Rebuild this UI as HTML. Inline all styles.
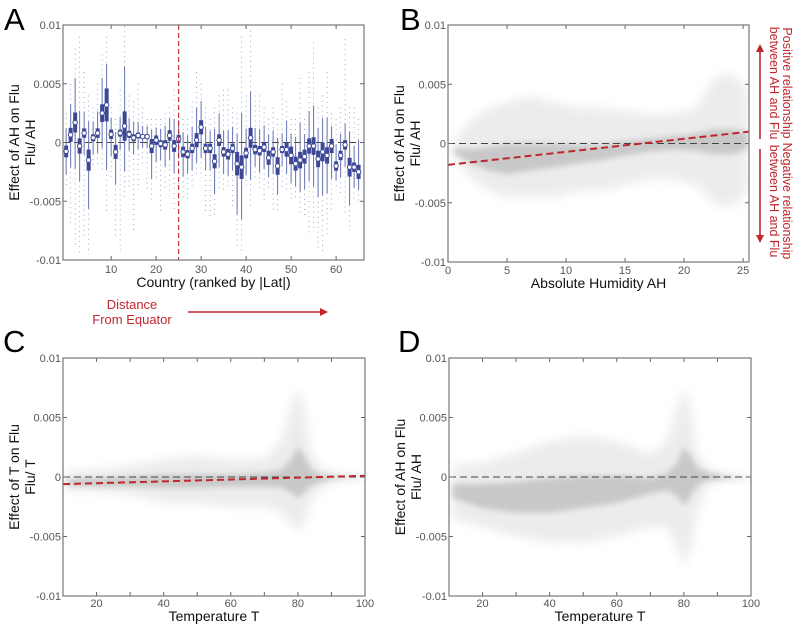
<!DOCTYPE html>
<html><head><meta charset="utf-8">
<style>
body{margin:0;background:#fff;}
svg{display:block;font-family:"Liberation Sans",Arial,sans-serif;}
.tl{font-size:11px;fill:#555;}
.at{font-size:14px;fill:#111;}
.pl{font-size:31px;fill:#000;}
.red{fill:#c0272d;font-size:13px;}
.redr{fill:#c0272d;font-size:12.5px;}
</style></head><body>
<svg id="fig" width="802" height="625" viewBox="0 0 802 625">
<defs>
<filter id="blurO" x="-20%" y="-20%" width="140%" height="140%"><feGaussianBlur stdDeviation="5"/></filter>
<filter id="blurI" x="-20%" y="-20%" width="140%" height="140%"><feGaussianBlur stdDeviation="3"/></filter>
<marker id="ah" markerWidth="8" markerHeight="8" refX="6" refY="4" orient="auto" markerUnits="userSpaceOnUse"><path d="M0,0 L8,4 L0,8 z" fill="#c0272d"/></marker>
</defs>
<g id="gA"></g>
<g id="gB"></g>
<g id="gC"></g>
<g id="gD"></g>
<text class="pl" x="4" y="30">A</text>
<text class="pl" x="400" y="30">B</text>
<text class="pl" x="3" y="352">C</text>
<text class="pl" x="398" y="352">D</text>
<g>
<text class="red" x="132" y="309" text-anchor="middle">Distance</text>
<text class="red" x="132" y="324" text-anchor="middle">From Equator</text>
<line x1="188" y1="312" x2="326" y2="312" stroke="#c0272d" stroke-width="1.6" marker-end="url(#ah)"/>
</g>
<g>
<line x1="760" y1="139" x2="760" y2="46" stroke="#c0272d" stroke-width="1.6" marker-end="url(#ah)"/>
<line x1="760" y1="149" x2="760" y2="241" stroke="#c0272d" stroke-width="1.6" marker-end="url(#ah)"/>
<g transform="translate(783,143) rotate(90)">
<text class="redr" x="-60" y="0" text-anchor="middle">Positive relationship</text>
<text class="redr" x="-60" y="13" text-anchor="middle">between AH and Flu</text>
<text class="redr" x="58" y="0" text-anchor="middle">Negative relationship</text>
<text class="redr" x="58" y="13" text-anchor="middle">between AH and Flu</text>
</g>
</g>
</svg>
<script>
// ---- Panel A data ----
const aMedian=[-0.00076,0.00065,0.0017,-0.0003,0.0008,-0.0015,0.0004,0.0008,0.0025,0.0032,0.0007,-0.0008,0.0008,0.0014,0.0007,0.0004,0.0006,0.0005,0.0005,-0.0003,0.0002,-0.0001,-0.0002,0.0006,-0.0003,0.0003,-0.0008,-0.001,-0.0005,0.0002,0.0013,-0.0005,-0.0005,-0.0016,0.0002,-0.0008,-0.001,-0.0005,-0.0018,-0.0021,-0.0009,0.0004,-0.0006,-0.0007,-0.0004,-0.0013,-0.0008,-0.002,-0.0006,-0.0006,-0.0011,-0.0018,-0.0015,-0.0012,-0.0003,-0.0003,-0.0014,-0.0008,-0.0011,-0.0003,-0.002,-0.0011,-0.0002,-0.0021,-0.0021,-0.0025];
const aIqr=[0.001,0.0012,0.0017,0.0013,0.0008,0.0018,0.0006,0.0008,0.0015,0.0028,0.0008,0.0012,0.0006,0.0025,0.0006,0.0006,0.0005,0.0004,0.0004,0.0012,0.0008,0.0006,0.0008,0.0009,0.001,0.0007,0.0009,0.0007,0.0008,0.0012,0.0012,0.0008,0.0008,0.0012,0.001,0.0008,0.0009,0.0008,0.002,0.002,0.0009,0.0017,0.0008,0.0008,0.0008,0.0012,0.0008,0.0015,0.0006,0.0012,0.0015,0.0012,0.0014,0.0012,0.0013,0.0015,0.0014,0.0016,0.0014,0.0012,0.0008,0.0008,0.0008,0.0016,0.0008,0.0012];
const aOutHi=[0.0025,0.005,0.008,0.009,0.006,0.004,0.003,0.005,0.0075,0.009,0.003,0.002,0.0045,0.0099,0.004,0.0035,0.005,0.003,0.002,0.002,0.002,0.002,0.0025,0.003,0.0045,0.003,0.002,0.002,0.0035,0.006,0.005,0.003,0.002,0.003,0.004,0.0045,0.0045,0.003,0.0025,0.009,0.004,0.0095,0.004,0.004,0.003,0.002,0.003,0.002,0.005,0.0035,0.002,0.002,0.0055,0.002,0.006,0.0085,0.003,0.004,0.006,0.0025,0.002,0.003,0.0088,0.003,0.003,0.002];
const aOutLo=[-0.004,-0.007,-0.009,-0.0095,-0.008,-0.0095,-0.002,-0.002,-0.0025,-0.006,-0.003,-0.008,-0.0095,-0.005,-0.004,-0.0075,-0.004,-0.002,-0.004,-0.005,-0.003,-0.006,-0.004,-0.0045,-0.006,-0.005,-0.005,-0.005,-0.004,-0.003,-0.003,-0.006,-0.0065,-0.0065,-0.004,-0.004,-0.004,-0.0055,-0.009,-0.0095,-0.004,-0.0055,-0.003,-0.004,-0.005,-0.004,-0.006,-0.006,-0.004,-0.004,-0.005,-0.005,-0.006,-0.0065,-0.008,-0.0075,-0.009,-0.0095,-0.008,-0.006,-0.004,-0.0045,-0.006,-0.0075,-0.005,-0.005];
const aXTicks=[10,20,30,40,50,60];
const yTicks=[0.01,0.005,0,-0.005,-0.01];
const yTickLabels=["0.01","0.005","0","-0.005","-0.01"];
const aDivider=25;

// ---- Panel B data ----
const bX=[0.5,2,3.5,5,7,9,11,13,15,17,19,21,22.5,24,25.4];
const bUpInner=[-0.0004,-0.0005,-0.0003,0,0,0,-0.0001,-0.0001,0.0002,0.0004,0.0006,0.0008,0.0012,0.0012,0.001];
const bLoInner=[-0.0008,-0.0017,-0.0023,-0.0026,-0.0023,-0.002,-0.0017,-0.0014,-0.001,-0.0007,-0.0005,-0.0006,-0.0009,-0.0009,-0.0005];
const bUpOuter=[0.0003,0.002,0.003,0.0035,0.004,0.0035,0.003,0.003,0.0028,0.0025,0.0025,0.003,0.0055,0.006,0.0045];
const bLoOuter=[-0.0013,-0.003,-0.004,-0.0045,-0.0045,-0.0045,-0.004,-0.004,-0.0035,-0.003,-0.003,-0.0035,-0.005,-0.0055,-0.004];
const bFitX=[0,25.5];
const bFitY=[-0.0018,0.001];
const bXTicks=[0,5,10,15,20,25];

// ---- Panel C data ----
const cX=[11,20,30,40,50,60,70,75,78,80,82,84,87,90,95,99];
const cUpInner=[-0.0002,-0.0001,0,0.0002,0.0002,0.0002,0.0003,0.0006,0.0015,0.0025,0.0018,0.0006,0.0002,0.0001,0,0];
const cLoInner=[-0.0007,-0.0008,-0.0008,-0.0009,-0.0009,-0.0008,-0.0008,-0.0009,-0.0013,-0.0018,-0.0013,-0.0007,-0.0004,-0.0002,-0.0001,-0.0001];
const cUpOuter=[0.0006,0.0006,0.001,0.0015,0.0018,0.0015,0.0015,0.003,0.006,0.0075,0.006,0.002,0.0008,0.0004,0.0002,0.0001];
const cLoOuter=[-0.0012,-0.0012,-0.0015,-0.0022,-0.0022,-0.0025,-0.0025,-0.003,-0.004,-0.0045,-0.004,-0.002,-0.001,-0.0005,-0.0003,-0.0002];
const cFitX=[10,100];
const cFitY=[-0.0006,0.0001];
const tXTicks=[20,40,60,80,100];
const tMinor=[30,50,70,90];

// ---- Panel D data ----
const dX=[11,20,30,40,50,60,70,75,78,80,82,84,87,90,95,99];
const dUpInner=[-0.0006,-0.0006,-0.0004,-0.0001,0.0001,0.0001,-0.0001,0.0003,0.0012,0.0025,0.0018,0.0008,0.0004,0.0002,0,0];
const dLoInner=[-0.0018,-0.0026,-0.003,-0.003,-0.0026,-0.0022,-0.0014,-0.0011,-0.0016,-0.0024,-0.0016,-0.0007,-0.0003,-0.0002,-0.0001,-0.0001];
const dUpOuter=[0.001,0.0012,0.002,0.003,0.0035,0.003,0.002,0.003,0.006,0.0075,0.006,0.002,0.0008,0.0004,0.0002,0.0001];
const dLoOuter=[-0.0035,-0.0042,-0.005,-0.0055,-0.0055,-0.005,-0.0042,-0.0042,-0.006,-0.0075,-0.006,-0.003,-0.0008,-0.0004,-0.0003,-0.0002];

const NS="http://www.w3.org/2000/svg";
function mk(parent,tag,attrs,text){const e=document.createElementNS(NS,tag);for(const k in attrs)e.setAttribute(k,attrs[k]);if(text!==undefined)e.textContent=text;parent.appendChild(e);return e;}
function lin(d0,d1,r0,r1){return v=>r0+(v-d0)*(r1-r0)/(d1-d0);}

function frame(g,L,T,R,B,xs,xTicks,xLabels,minor,ys,titleLines,xTitle,tickY){
  yTicks.forEach((v,i)=>{
    const y=ys(v);
    let t=mk(g,'line',{x1:L,y1:y,x2:L+4,y2:y,stroke:'#666'});
    
    
    t=mk(g,'line',{x1:R,y1:y,x2:R-4,y2:y,stroke:'#666'});
    
    
    const lb=mk(g,'text',{x:L-2,y:y+4,'text-anchor':'end','class':'tl'},yTickLabels[i]);
    
    
  });
  xTicks.forEach((v,i)=>{
    const x=xs(v);
    let t=mk(g,'line',{x1:x,y1:B,x2:x,y2:B-4,stroke:'#666'});
    
    
    t=mk(g,'line',{x1:x,y1:T,x2:x,y2:T+4,stroke:'#666'});
    
    
    const lb=mk(g,'text',{x:x,y:tickY,'text-anchor':'middle','class':'tl'},xLabels[i]);
    
    
  });
  (minor||[]).forEach(v=>{
    const x=xs(v);
    let t=mk(g,'line',{x1:x,y1:B,x2:x,y2:B-4,stroke:'#666'});
    
    
    t=mk(g,'line',{x1:x,y1:T,x2:x,y2:T+4,stroke:'#666'});
    
    
  });
  const box=mk(g,'rect',{x:L,y:T,width:R-L,height:B-T,fill:'none',stroke:'#777','stroke-width':1.2});
  
  
  const cy=(T+B)/2;
  const tg=mk(g,'g',{transform:`translate(${L-40},${cy}) rotate(-90)`});
  const t1=mk(tg,'text',{x:0,y:-4,'text-anchor':'middle','class':'at'},titleLines[0]);
  
  
  const t2=mk(tg,'text',{x:0,y:12,'text-anchor':'middle','class':'at'},titleLines[1]);
  
  
  const xt=mk(g,'text',{x:(L+R)/2,y:tickY+14,'text-anchor':'middle','class':'at'},xTitle);
  
  
}

function zeroLine(g,L,R,ys){
  const z=mk(g,'line',{x1:L,y1:ys(0),x2:R,y2:ys(0),stroke:'#444','stroke-width':1,'stroke-dasharray':'7,4'});
  
  
}

function cloud(g,xArr,up,lo,xs,ys,fill,filt,name,op){
  let d='M'+xs(xArr[0])+','+ys(up[0]);
  for(let i=1;i<xArr.length;i++)d+=' L'+xs(xArr[i])+','+ys(up[i]);
  for(let i=xArr.length-1;i>=0;i--)d+=' L'+xs(xArr[i])+','+ys(lo[i]);
  d+='Z';
  const p=mk(g,'path',{d:d,fill:fill,filter:filt,opacity:op});
  
  
}

function scatterPanel(id,L,T,R,B,xd,xArr,upI,loI,upO,loO,fitX,fitY,xTicks,xLabels,minor,titles,xTitle,tickY){
  const g=document.getElementById(id);
  const xs=lin(xd[0],xd[1],L,R), ys=lin(-0.01,0.01,B,T);
  const clip=mk(g,'clipPath',{id:id+'clip'});mk(clip,'rect',{x:L,y:T,width:R-L,height:B-T});
  const cg=mk(g,'g',{'clip-path':`url(#${id}clip)`});
  
  
  cloud(cg,xArr,upO,loO,xs,ys,'#e9e9e9','url(#blurO)','scatter-outer-density',0.85);
  cloud(cg,xArr,upI,loI,xs,ys,'#c2c2c2','url(#blurI)','scatter-core-density',0.85);
  zeroLine(g,L,R,ys);
  if(fitX){
    const f=mk(g,'line',{x1:xs(fitX[0]),y1:ys(fitY[0]),x2:xs(fitX[1]),y2:ys(fitY[1]),stroke:'#c0272d','stroke-width':2,'stroke-dasharray':'7,4'});
    
    
  }
  frame(g,L,T,R,B,xs,xTicks,xLabels,minor,ys,titles,xTitle,tickY);
}

// Panel A
(function(){
  const g=document.getElementById('gA');
  const L=63,T=25,R=364,B=260;
  const xs=lin(-0.7,66.2,L,R), ys=lin(-0.01,0.01,B,T);
  zeroLine(g,L,R,ys);
  const navy='#3c4896';
  aMedian.forEach((m,i)=>{
    const x=xs(i);
    const bg=mk(g,'g',{});
    
    
    const q1=m-aIqr[i]/2,q3=m+aIqr[i]/2;
    const wl=Math.max(q1-aIqr[i]*1.8,aOutLo[i]*0.6+m*0.4), wh=Math.min(q3+aIqr[i]*1.8,aOutHi[i]*0.6+m*0.4);
    mk(bg,'line',{x1:x,y1:ys(aOutHi[i]),x2:x,y2:ys(wh),stroke:navy,'stroke-width':0.8,'stroke-dasharray':'1,4',opacity:0.6});
    mk(bg,'line',{x1:x,y1:ys(wl),x2:x,y2:ys(aOutLo[i]),stroke:navy,'stroke-width':0.8,'stroke-dasharray':'1,4',opacity:0.6});
    mk(bg,'line',{x1:x,y1:ys(wh),x2:x,y2:ys(wl),stroke:'#6570b0','stroke-width':1});
    mk(bg,'rect',{x:x-2,y:ys(q3),width:4,height:ys(q1)-ys(q3),fill:navy});
    mk(bg,'circle',{cx:x,cy:ys(m),r:2.2,fill:'#fff',stroke:navy,'stroke-width':1});
  });
  const dv=mk(g,'line',{x1:xs(aDivider),y1:T,x2:xs(aDivider),y2:B,stroke:'#c0272d','stroke-width':1.1,'stroke-dasharray':'5,3'});
  
  
  frame(g,L,T,R,B,xs,aXTicks,aXTicks.map(String),null,ys,['Effect of AH on Flu','Flu/ AH'],'Country (ranked by |Lat|)',273);
})();

scatterPanel('gB',448,25,749,262,[0,25.5],bX,bUpInner,bLoInner,bUpOuter,bLoOuter,bFitX,bFitY,bXTicks,bXTicks.map(String),null,['Effect of AH on Flu','Flu/ AH'],'Absolute Humidity AH',274);
scatterPanel('gC',63,358,365,596,[10,100],cX,cUpInner,cLoInner,cUpOuter,cLoOuter,cFitX,cFitY,tXTicks,tXTicks.map(String),tMinor,['Effect of T on Flu','Flu/ T'],'Temperature T',607);
scatterPanel('gD',449,358,751,596,[10,100],dX,dUpInner,dLoInner,dUpOuter,dLoOuter,null,null,tXTicks,tXTicks.map(String),tMinor,['Effect of AH on Flu','Flu/ AH'],'Temperature T',607);
</script>
</body></html>
